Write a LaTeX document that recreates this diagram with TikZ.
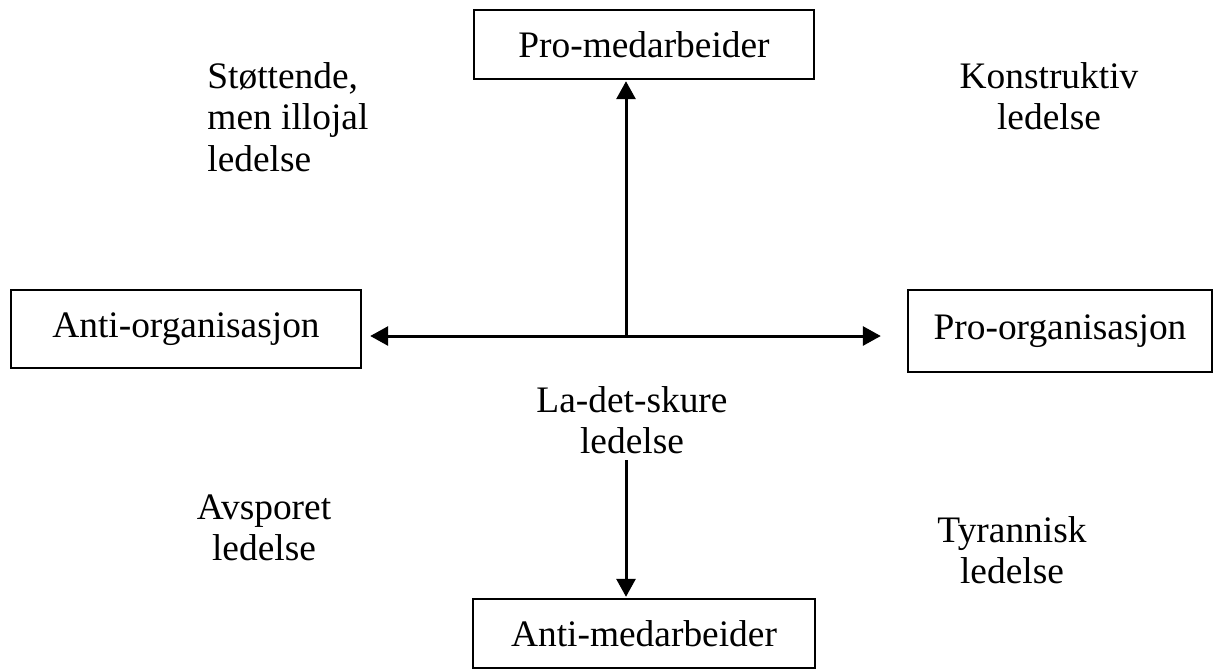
\documentclass[tikz,border=0pt]{standalone}
\usepackage{fontspec}
\setmainfont{Liberation Serif}
\usetikzlibrary{arrows.meta, positioning, calc}

\begin{document}
\begin{tikzpicture}[x=0.5pt, y=-0.5pt,
    font=\fontsize{18.7}{20.75}\selectfont,
    axisbox/.style={draw, line width=1.2pt, inner sep=0pt},
    arr/.style={-{Triangle[length=9pt, width=9.5pt]}, line width=1.5pt},
    lbl/.style={align=center, inner sep=0pt}]
        \useasboundingbox (0,0) rectangle (1215,670);

        % Boxes
        \node[axisbox, minimum width=170pt, minimum height=34.5pt] (promed) at (644,44.5) {Pro-medarbeider};
        \node[axisbox, minimum width=175pt, minimum height=39pt] (antiorg) at (186,329) {Anti-organisasjon};
        \node[axisbox, minimum width=152pt, minimum height=41pt] (proorg) at (1060,331) {Pro-organisasjon};
        \node[axisbox, minimum width=171pt, minimum height=34.5pt] (antimed) at (644,633.5) {Anti-medarbeider};

        % Centre
        \coordinate (ctr) at (626,336);
        \node[lbl] (skure) at (632,420) {La-det-skure\\ledelse};

        % Arrows
        \draw[arr, shorten >=4pt] (ctr) -- (ctr -| antiorg.east);
        \draw[arr, shorten >=13pt] (ctr) -- (ctr -| proorg.west);
        \draw[arr, shorten >=0.5pt] (ctr) -- (ctr |- promed.south);
        \draw[arr, shorten <=3pt, shorten >=0.5pt] (skure.south -| ctr) -- (ctr |- antimed.north);

        % Quadrant labels
        \node[lbl, align=left, anchor=west] (stottende) at (207,117) {Støttende,\\men illojal\\ledelse};
        \node[lbl] (konstruktiv) at (1049,96) {Konstruktiv\\ledelse};
        \node[lbl] (avsporet) at (264,528) {Avsporet\\ledelse};
        \node[lbl] (tyrannisk) at (1012,550) {Tyrannisk\\ledelse};
      \end{tikzpicture}
\end{document}
